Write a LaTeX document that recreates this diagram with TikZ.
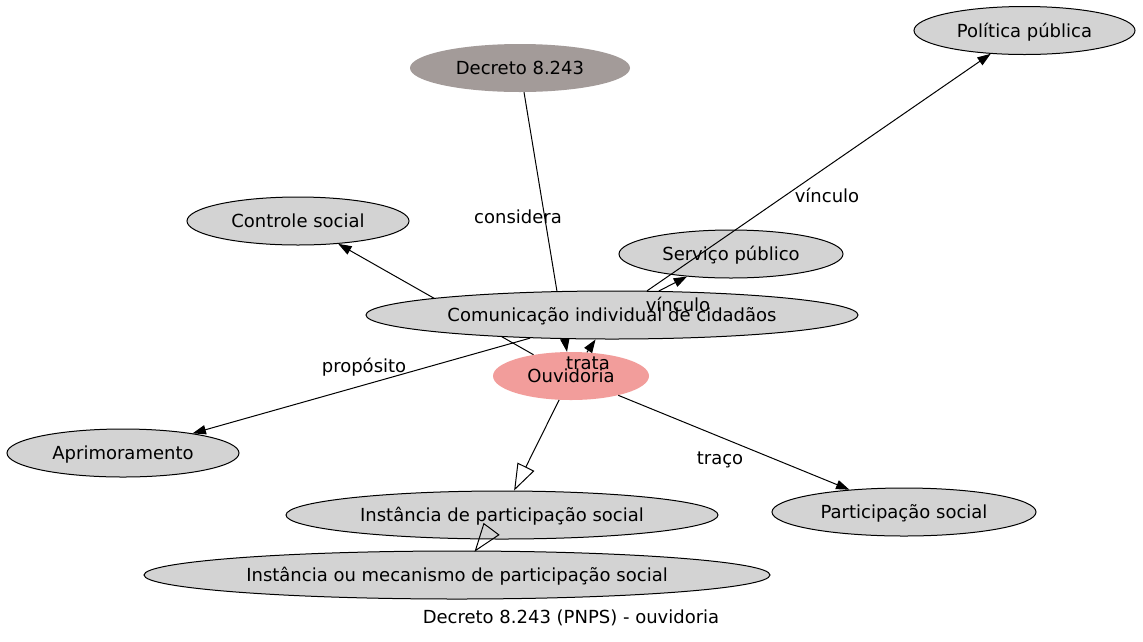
\documentclass[tikz,border=0pt]{standalone}
\usepackage{fontspec}
\setmainfont{DejaVu Sans}
\usetikzlibrary{shapes.geometric,arrows.meta,calc}
\pgfdeclarelayer{bg}
\pgfsetlayers{bg,main}
\definecolor{lgray}{HTML}{D3D3D3}
\definecolor{decr}{HTML}{A39B99}
\definecolor{ouvc}{HTML}{F29D9B}
\begin{document}
\begin{tikzpicture}[x=1pt,y=-1pt,
  txt/.style={font=\fontsize{18pt}{22pt}\selectfont, text height=13pt, text depth=0pt},
  nd/.style={txt, ellipse, draw=black, fill=lgray, line width=1pt, inner sep=0pt, minimum height=48pt},
  ndfill/.style={txt, ellipse, draw=none, fill=#1, inner sep=0pt, minimum height=48pt},
  lbl/.style={txt, inner sep=0pt},
  edge/.style={line width=1pt, -{Triangle[length=13.3pt,width=9.3pt]}},
  hedge/.style={line width=1pt, -{Triangle[open,length=26.6pt,width=18.7pt]}}
]
\useasboundingbox (0,0) rectangle (1143,641);

\node[nd, minimum width=221pt] (pol) at (1024.5,30.5) {Política pública};
\node[ndfill=decr, minimum width=220pt] (dec) at (520,68) {Decreto 8.243};
\node[nd, minimum width=222pt] (ctl) at (298,221) {Controle social};
\node[nd, minimum width=224pt] (srv) at (731,254) {Serviço público};
\node[nd, minimum width=492pt] (com) at (612,315) {Comunicação individual de cidadãos};
\node[ndfill=ouvc, minimum width=156pt] (ouv) at (571,376) {Ouvidoria};
\node[nd, minimum width=232pt] (apr) at (123,453) {Aprimoramento};
\node[nd, minimum width=432pt] (ip) at (502,515) {Instância de participação social};
\node[nd, minimum width=264pt] (par) at (904,512) {Participação social};
\node[nd, minimum width=626pt] (im) at (457,575) {Instância ou mecanismo de participação social};

\begin{pgfonlayer}{bg}
\fill[white] (0,0) rectangle (1143,641);
\draw[edge] (dec) -- (ouv);
\draw[edge] (ouv) -- (ctl);
\end{pgfonlayer}

\draw[edge] (ouv) -- (com);
\draw[edge] (com) -- (srv);
\draw[edge] (com) -- (pol);
\draw[edge] (com) -- (apr);
\draw[edge] (ouv) -- (par);
\draw[hedge] (ouv) -- (ip);

\coordinate (t2) at (im.53.13);
\coordinate (b2) at ($(t2)!26.6pt!(ip.center)$);
\draw[line width=1pt, line join=miter] (t2) -- ($(b2)!9.35pt!90:(t2)$) -- ($(b2)!9.35pt!-90:(t2)$) -- cycle;

\node[lbl] (lcons) at (518,216.5) {considera};
\node[lbl] (lvin1) at (827,195.5) {vínculo};
\node[lbl] (lvin2) at (678,304.5) {vínculo};
\node[lbl] (ltrata) at (588,362.5) {trata};
\node[lbl] (lprop) at (364,365.5) {propósito};
\node[lbl] (ltraco) at (720,457.5) {traço};
\node[lbl] (title) at (571,616.5) {Decreto 8.243 (PNPS) - ouvidoria};
\end{tikzpicture}
\end{document}
